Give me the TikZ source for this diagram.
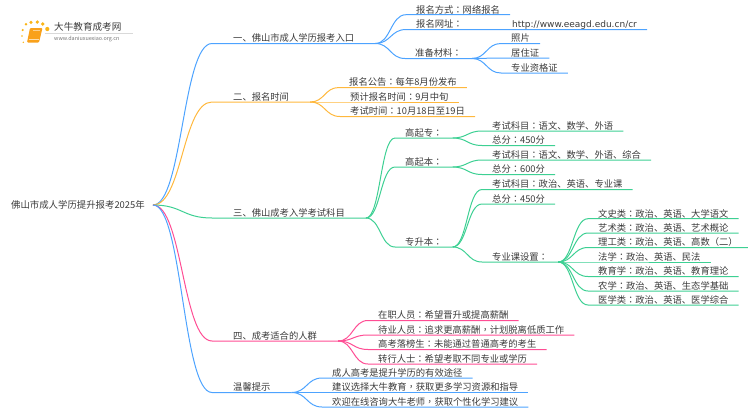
\documentclass[tikz,border=0pt]{standalone}
\usepackage{xcolor}
\usepackage{fontspec}
\setmainfont{Noto Sans CJK SC}
\newfontfamily\urlfont{DejaVu Sans}
\newfontfamily\tcfont{Noto Sans CJK TC}
\newcommand{\fwcolon}{{\tcfont ：}}
\newcommand{\fwcomma}{{\tcfont ，}}
\usetikzlibrary{calc}

\definecolor{inkgrey}{HTML}{3A3A3A}
\definecolor{branchblue}{HTML}{4DA3FF}
\definecolor{branchorange}{HTML}{FFB83D}
\definecolor{branchgreen}{HTML}{3DD093}
\definecolor{branchpink}{HTML}{FF4D94}
\definecolor{logoorange}{HTML}{F9A11B}

\begin{document}
\begin{tikzpicture}[
        x=1pt, y=-1pt,
        rootnode/.style={anchor=east, inner xsep=8pt, inner ysep=0pt, font=\fontsize{9.4}{11}\selectfont, text=inkgrey},
        topic/.style={anchor=south west, inner xsep=21pt, inner ysep=0.5pt, text height=8.2pt, text depth=1pt, font=\fontsize{9.3}{11}\selectfont, text=inkgrey},
        item/.style={anchor=south west, inner xsep=10pt, inner ysep=0.5pt, text height=8.2pt, text depth=1pt, font=\fontsize{9.3}{11}\selectfont, text=inkgrey},
        link/.style={line width=1pt, to path={let \p1=(\tikztostart), \p2=(\tikztotarget), \n1={0.5*(\x1+\x2)} in .. controls (\n1,\y1) and (\n1,\y2) .. (\tikztotarget)}},
        bluelink/.style={link, draw=branchblue},
        orangelink/.style={link, draw=branchorange},
        greenlink/.style={link, draw=branchgreen},
        pinklink/.style={link, draw=branchpink}
    ]
    \useasboundingbox (0,0) rectangle (750,410);

    % logo
    \foreach \dotx/\doty/\dotr in {22/36/0.9, 23.3/42.3/0.8, 22.7/30/1.2, 26/24.3/1.4, 31/22.3/1.7, 37.3/22/1.8, 42.7/24/1.9, 47.3/29/2.1}
        \fill [logoorange!80!yellow] (\dotx,\doty) circle (\dotr);
    \fill [logoorange, rounded corners=1pt] (30,28) -- (42.5,28) -- (39,42.5) -- (27,42.5) -- cycle;
    \draw [logoorange!35!white, line width=0.7pt] (29,39.8) -- (39,39.8);
    \draw [logoorange!50!white, line width=0.4pt] (33,30.5) -- (40,30.5);
    \node (logotext) [anchor=west, inner sep=0pt, font=\fontsize{9.6}{11}\selectfont, text=inkgrey] at (54,27) {大牛教育成考网};
    \node (logourl) [anchor=west, inner sep=0pt, font=\fontsize{5.4}{6}\selectfont, text=black!55] at (54,38.6) {www.daniuxuexiao.org.cn};
    \draw [black!15, line width=0.5pt] (45,33) -- (133,33);

    \node (root) [rootnode] at (153,205) {佛山市成人学历提升报考2025年};

    \node (entry) [topic] at (212,43.5) {一、佛山市成人学历报考入口};
    \node (signup) [topic] at (212,102) {二、报名时间};
    \node (subjects) [topic] at (212,218) {三、佛山成考入学考试科目};
    \node (crowd) [topic] at (212,341) {四、成考适合的人群};
    \node (tips) [topic] at (212,392.5) {温馨提示};

    \node (way) [item] at (406,14.7) {报名方式\fwcolon 网络报名};
    \node (site) [item] at (406,29.5) {报名网址\fwcolon\hspace{49.5pt}{\urlfont\fontsize{9}{11}\selectfont http://www.eeagd.edu.cn/cr}};
    \node (material) [item] at (405,58.5) {准备材料\fwcolon};
    \node (photo) [item] at (501,43.5) {照片};
    \node (permit) [item] at (501,58) {居住证};
    \node (cert) [item] at (501,73) {专业资格证};

    \node (notice) [item] at (339,87.5) {报名公告\fwcolon 每年8月份发布};
    \node (expect) [item] at (340,102) {预计报名时间\fwcolon 9月中旬};
    \node (examdate) [item] at (340,116.5) {考试时间\fwcolon 10月18日至19日};

    \node (gqz) [item] at (395,138) {高起专\fwcolon};
    \node (gqb) [item] at (395,167) {高起本\fwcolon};
    \node (zsb) [item] at (395,247) {专升本\fwcolon};
    \node (gqzsub) [item] at (482,131) {考试科目\fwcolon 语文、数学、外语};
    \node (gqzscore) [item] at (482,145.5) {总分\fwcolon 450分};
    \node (gqbsub) [item] at (482,160) {考试科目\fwcolon 语文、数学、外语、综合};
    \node (gqbscore) [item] at (482,174.5) {总分\fwcolon 600分};
    \node (zsbsub) [item] at (482,189.5) {考试科目\fwcolon 政治、英语、专业课};
    \node (zsbscore) [item] at (482,204) {总分\fwcolon 450分};
    \node (major) [item] at (482,262) {专业课设置\fwcolon};

    \node (wenshi) [item] at (588,218.7) {文史类\fwcolon 政治、英语、大学语文};
    \node (yishu) [item] at (588,233) {艺术类\fwcolon 政治、英语、艺术概论};
    \node (ligong) [item] at (588,247.5) {理工类\fwcolon 政治、英语、高数{\tcfont（二）}};
    \node (faxue) [item] at (588,262) {法学\fwcolon 政治、英语、民法};
    \node (jiaoyu) [item] at (588,276.5) {教育学\fwcolon 政治、英语、教育理论};
    \node (nongxue) [item] at (588,291) {农学\fwcolon 政治、英语、生态学基础};
    \node (yixue) [item] at (588,305) {医学类\fwcolon 政治、英语、医学综合};

    \node (onjob) [item] at (368,320.5) {在职人员\fwcolon 希望晋升或提高薪酬};
    \node (jobless) [item] at (368,335) {待业人员\fwcolon 追求更高薪酬\fwcomma 计划脱离低质工作};
    \node (failed) [item] at (368,349.5) {高考落榜生\fwcolon 未能通过普通高考的考生};
    \node (switcher) [item] at (368,364) {转行人士\fwcolon 希望考取不同专业或学历};

    \node (tipa) [item] at (322,378) {成人高考是提升学历的有效途径};
    \node (tipb) [item] at (322,392.5) {建议选择大牛教育\fwcomma 获取更多学习资源和指导};
    \node (tipc) [item] at (322,407) {欢迎在线咨询大牛老师\fwcomma 获取个性化学习建议};

    \draw [bluelink] (root.east) to (entry.south west) -- (entry.south east);
    \draw [orangelink] (root.east) to (signup.south west) -- (signup.south east);
    \draw [greenlink] (root.east) to (subjects.south west) -- (subjects.south east);
    \draw [pinklink] (root.east) to (crowd.south west) -- (crowd.south east);
    \draw [bluelink] (root.east) to (tips.south west) -- (tips.south east);

    \draw [bluelink] (entry.south east) to (way.south west) -- (way.south east);
    \draw [bluelink] (entry.south east) to (site.south west) -- (site.south east);
    \draw [bluelink] (entry.south east) to (material.south west) -- (material.south east);
    \draw [bluelink] (material.south east) to (photo.south west) -- (photo.south east);
    \draw [bluelink] (material.south east) to (permit.south west) -- (permit.south east);
    \draw [bluelink] (material.south east) to (cert.south west) -- (cert.south east);

    \draw [orangelink] (signup.south east) to (notice.south west) -- (notice.south east);
    \draw [orangelink] (signup.south east) to (expect.south west) -- (expect.south east);
    \draw [orangelink] (signup.south east) to (examdate.south west) -- (examdate.south east);

    \draw [greenlink] (subjects.south east) to (gqz.south west) -- (gqz.south east);
    \draw [greenlink] (subjects.south east) to (gqb.south west) -- (gqb.south east);
    \draw [greenlink] (subjects.south east) to (zsb.south west) -- (zsb.south east);
    \draw [greenlink] (gqz.south east) to (gqzsub.south west) -- (gqzsub.south east);
    \draw [greenlink] (gqz.south east) to (gqzscore.south west) -- (gqzscore.south east);
    \draw [greenlink] (gqb.south east) to (gqbsub.south west) -- (gqbsub.south east);
    \draw [greenlink] (gqb.south east) to (gqbscore.south west) -- (gqbscore.south east);
    \draw [greenlink] (zsb.south east) to (zsbsub.south west) -- (zsbsub.south east);
    \draw [greenlink] (zsb.south east) to (zsbscore.south west) -- (zsbscore.south east);
    \draw [greenlink] (zsb.south east) to (major.south west) -- (major.south east);
    \draw [greenlink] (major.south east) to (wenshi.south west) -- (wenshi.south east);
    \draw [greenlink] (major.south east) to (yishu.south west) -- (yishu.south east);
    \draw [greenlink] (major.south east) to (ligong.south west) -- (ligong.south east);
    \draw [greenlink] (major.south east) to (faxue.south west) -- (faxue.south east);
    \draw [greenlink] (major.south east) to (jiaoyu.south west) -- (jiaoyu.south east);
    \draw [greenlink] (major.south east) to (nongxue.south west) -- (nongxue.south east);
    \draw [greenlink] (major.south east) to (yixue.south west) -- (yixue.south east);

    \draw [pinklink] (crowd.south east) to (onjob.south west) -- (onjob.south east);
    \draw [pinklink] (crowd.south east) to (jobless.south west) -- (jobless.south east);
    \draw [pinklink] (crowd.south east) to (failed.south west) -- (failed.south east);
    \draw [pinklink] (crowd.south east) to (switcher.south west) -- (switcher.south east);

    \draw [bluelink] (tips.south east) to (tipa.south west) -- (tipa.south east);
    \draw [bluelink] (tips.south east) to (tipb.south west) -- (tipb.south east);
    \draw [bluelink] (tips.south east) to (tipc.south west) -- (tipc.south east);

    \end{tikzpicture}
\end{document}
